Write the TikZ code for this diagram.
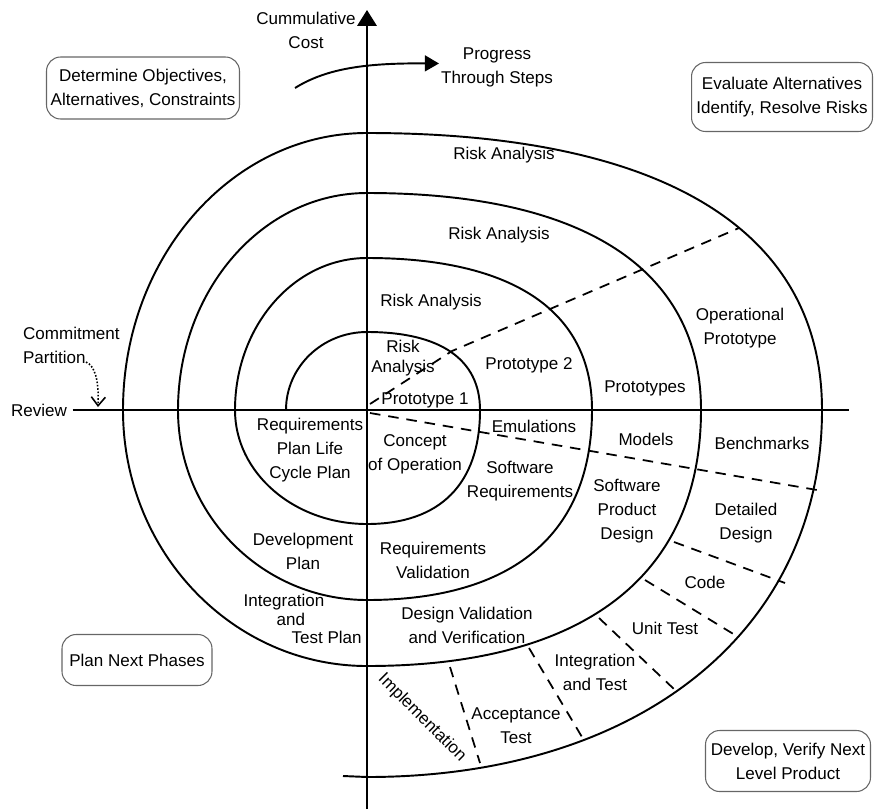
\documentclass[tikz,border=0pt]{standalone}
\usepackage{fontspec}
\setmainfont{Liberation Sans}
\usetikzlibrary{arrows.meta}
\tikzset{lbl/.style={align=center, font=\fontsize{9.7}{13.6}\selectfont, inner sep=1pt},
phase/.style={lbl, draw=black!60, line width=0.6pt, rounded corners=8pt},
spiral/.style={line width=1.1pt},
axis_t/.style={line width=1.1pt},
part/.style={line width=1pt, dash pattern=on 6pt off 4.5pt},
flow/.style={line width=1.1pt, -{Triangle[width=9pt, length=8pt]}}}

\begin{document}
\begin{tikzpicture}[x=0.02cm, y=0.02cm]
  \useasboundingbox (-367,-399) rectangle (507,410);
  % axes
  \node[lbl, anchor=east] (review) at (-298,0) {Review};
  \coordinate (top) at (0,400);
  \coordinate (bot) at (0,-399);
  \coordinate (east) at (482,0);
  \draw[axis_t, -{Triangle[width=11pt, length=9pt]}] (bot) -- (top);
  \draw[axis_t] ([xshift=2pt]review.east) -- (east);
  \node[lbl] (cost) at (-61,380) {Cummulative\\Cost};
  % progress arrow
  \node[lbl] (progress) at (130,343) {Progress\\Through Steps};
  \coordinate (p0) at (-72,322);
  \draw[flow] (p0) .. controls (-40,342) and (0,347) .. ([yshift=2pt]progress.west);
  % commitment partition
  \node[lbl, align=left, anchor=west] (commit) at (-346,65) {Commitment\\Partition};
  \coordinate (c0) at (-281,48);
  \coordinate (c1) at (-269,3);
  \draw[densely dotted, line width=0.9pt, -{Straight Barb[length=5pt, width=8pt]}] (c0) .. controls (-272,44) and (-268,30) .. (c1);
  % spiral
  \draw[spiral] (-81,0) arc[start angle=180, end angle=90, x radius=81, y radius=78]
    .. controls (73,78) and (113,51) .. (113,0)
    .. controls (113,-74) and (73,-114) .. (0,-114)
    arc[start angle=270, end angle=180, x radius=132, y radius=114]
    arc[start angle=180, end angle=90, x radius=132, y radius=152]
    .. controls (146,152) and (225,99) .. (225,0)
    .. controls (225,-124) and (146,-190) .. (0,-190)
    arc[start angle=270, end angle=180, x radius=189, y radius=190]
    arc[start angle=180, end angle=90, x radius=189, y radius=217]
    .. controls (217,217) and (334,141) .. (334,0)
    .. controls (334,-166) and (217,-256) .. (0,-256)
    arc[start angle=270, end angle=180, x radius=244, y radius=256]
    arc[start angle=180, end angle=90, x radius=244, y radius=277]
    .. controls (296,277) and (455,180) .. (455,0)
    .. controls (455,-220) and (273,-367) .. (0,-367)
    -- (-24,-366);
  % partitions
  \draw[part] (3,6) -- (85,59) -- (372,182);
  \draw[part] (3,-3) -- (450,-80);
  \draw[part] (307,-132) -- (418,-173);
  \draw[part] (278,-170) -- (368,-225);
  \draw[part] (232,-208) -- (308,-280);
  \draw[part] (162,-238) -- (215,-327);
  \draw[part] (83,-257) -- (113,-353);
  % upper right
  \node[lbl] (risk4) at (137,255) {Risk Analysis};
  \node[lbl] (risk3) at (132,175) {Risk Analysis};
  \node[lbl] (risk2) at (64,108) {Risk Analysis};
  \node[lbl] (risk1) at (36,52) {Risk\\[-2pt]Analysis};
  \node[lbl] (proto1) at (58,10) {Prototype 1};
  \node[lbl] (proto2) at (162,45) {Prototype 2};
  \node[lbl] (protos) at (278,22) {Prototypes};
  \node[lbl] (opproto) at (373,82) {Operational\\Prototype};
  % lower right
  \node[lbl] (concept) at (48,-44) {Concept\\of Operation};
  \node[lbl] (emul) at (167,-16) {Emulations};
  \node[lbl] (swreq) at (153,-71) {Software\\Requirements};
  \node[lbl] (models) at (279,-29) {Models};
  \node[lbl] (bench) at (395,-33) {Benchmarks};
  \node[lbl] (prodes) at (260,-101) {Software\\Product\\Design};
  \node[lbl] (detdes) at (379,-113) {Detailed\\Design};
  \node[lbl] (code) at (338,-172) {Code};
  \node[lbl] (unit) at (298,-218) {Unit Test};
  \node[lbl] (inttest) at (228,-262) {Integration\\and Test};
  \node[lbl] (accept) at (149,-316) {Acceptance\\Test};
  \node[lbl, rotate=-45] (impl) at (55,-308) {Implementation};
  \node[lbl] (reqval) at (66,-150) {Requirements\\Validation};
  \node[lbl] (desval) at (100,-215) {Design Validation\\and Verification};
  % lower left
  \node[lbl] (reqplan) at (-57,-40) {Requirements\\Plan Life\\Cycle Plan};
  \node[lbl] (devplan) at (-64,-141) {Development\\Plan};
  \node[lbl] (intplan) at (-83,-209) {Integration\\[-3pt]\hspace*{0.8em}and\\[-3pt]\hspace*{5em}Test Plan};
  % quadrant boxes
  \node[phase, minimum width=3.86cm, minimum height=1.24cm] (objectives) at (-224,322) {Determine Objectives,\\Alternatives, Constraints};
  \node[phase, minimum width=3.62cm, minimum height=1.38cm] (evaluate) at (415,313) {Evaluate Alternatives\\Identify, Resolve Risks};
  \node[phase, minimum width=3.0cm, minimum height=1.02cm] (plannext) at (-230,-250) {Plan Next Phases};
  \node[phase, minimum width=3.3cm, minimum height=1.22cm] (develop) at (421,-351) {Develop, Verify Next\\Level Product};
\end{tikzpicture}
\end{document}
